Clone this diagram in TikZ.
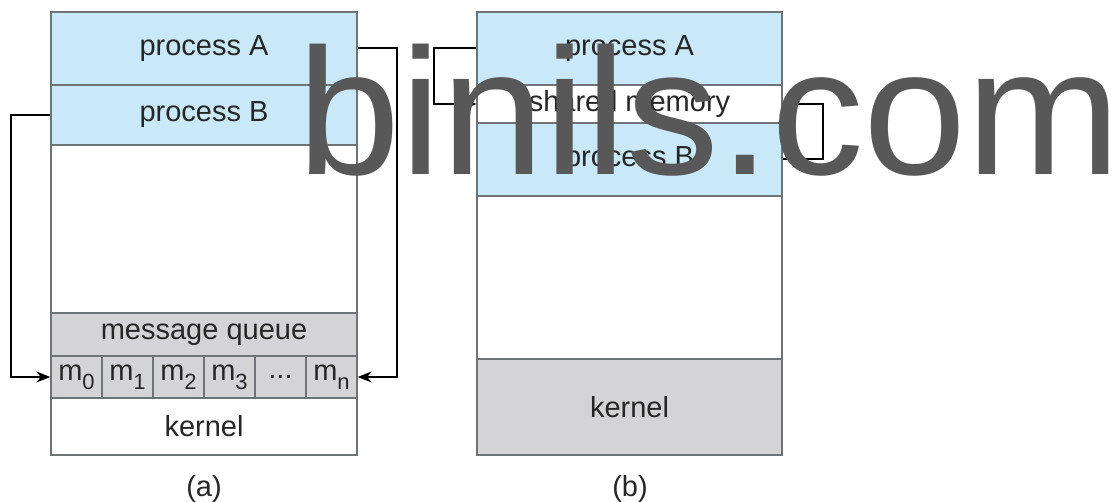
\documentclass[tikz,border=0pt]{standalone}
\usepackage{fontspec}
\setmainfont{Liberation Sans}
\usetikzlibrary{arrows.meta}
\definecolor{pblue}{HTML}{C9E9F9}
\definecolor{kgray}{HTML}{D4D4D6}
\definecolor{bord}{HTML}{6E7378}
\definecolor{txt}{HTML}{262626}
\definecolor{wm}{HTML}{585858}
\newcommand{\msub}[2]{#1\raisebox{-0.32em}{\fontsize{22}{22}\selectfont #2}}
\tikzset{
  blk/.style={draw=bord, line width=1.3pt, inner sep=0pt, text=txt,
    font=\fontsize{29}{30}\selectfont},
  conn/.style={draw=black, line width=2pt},
  arr/.style={conn, -{Stealth[length=14pt,width=11pt]}},
  lbl/.style={text=txt, font=\fontsize{29}{30}\selectfont, inner sep=0pt}
}
\begin{document}
\begin{tikzpicture}[x=1pt,y=-1pt]
\useasboundingbox (0,0) rectangle (1115,502);
\fill[white] (0,0) rectangle (1115,502);
% ---------- (a) message passing ----------
\node[blk, fill=pblue, minimum width=306pt, minimum height=73pt] (aA) at (204,48.5) {process A};
\node[blk, fill=pblue, minimum width=306pt, minimum height=60pt] (aB) at (204,115) {process B};
\node[blk, fill=white, minimum width=306pt, minimum height=168pt] (afree) at (204,229) {};
\node[blk, fill=kgray, minimum width=306pt, minimum height=43pt] (aq) at (204,334.5) {message queue};
\foreach \i/\t [count=\k from 0] in {m0/{\msub{m}{0}}, m1/{\msub{m}{1}}, m2/{\msub{m}{2}}, m3/{\msub{m}{3}}, mdots/{...}, mn/{\msub{m}{n}}}{
  \node[blk, fill=kgray, minimum width=51pt, minimum height=42pt] (\i) at ({76.5+51*\k},377) {\t};
}
\node[blk, fill=white, minimum width=306pt, minimum height=57pt] (akern) at (204,426.5) {kernel};
\node[lbl] (la) at (204,489) {(a)};
\draw[arr] (aB.west) -- ++(-39,0) |- (m0.west);
\draw[arr] (aA.east) -- ++(39,0) |- (mn.east);
% ---------- (b) shared memory ----------
\node[blk, fill=pblue, minimum width=305pt, minimum height=73pt] (bA) at (629.5,48.5) {process A};
\node[blk, fill=white, minimum width=305pt, minimum height=38pt] (bshm) at (629.5,104) {shared memory};
\node[blk, fill=pblue, minimum width=305pt, minimum height=73pt] (bB) at (629.5,159.5) {process B};
\node[blk, fill=white, minimum width=305pt, minimum height=163pt] (bfree) at (629.5,277.5) {};
\node[blk, fill=kgray, minimum width=305pt, minimum height=96pt] (bkern) at (629.5,407) {kernel};
\node[lbl] (lb) at (630,489) {(b)};
\draw[arr] (bA.west) -- ++(-42,0) |- (bshm.west);
\draw[arr] (bB.east) -- ++(40,0) |- (bshm.east);
% ---------- watermark ----------
\node[anchor=base west, inner sep=0pt, text=wm, xscale=1.03,
  font=\fontsize{180}{180}\selectfont] (wmark) at (297,175) {binils.com};
\end{tikzpicture}
\end{document}
